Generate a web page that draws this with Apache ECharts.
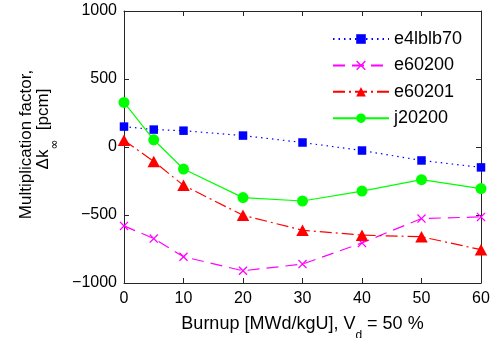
<!DOCTYPE html>
<html><head><meta charset="utf-8">
<script src="https://cdn.jsdelivr.net/npm/echarts@6/dist/echarts.min.js"></script>
<style>html,body{margin:0;padding:0;background:#fff}#c{width:491px;height:338px}</style>
</head><body><div id="c"></div>
<script>
const burnup = [0, 5, 10, 20, 30, 40, 50, 60];
const e4lblb70 = [150, 128, 120, 84, 33, -26, -99, -150];
const e60200 = [-580, -673, -807, -910, -861, -705, -526, -514];
const e60201 = [50, -106, -282, -502, -612, -648, -660, -755];
const j20200 = [328, 53, -162, -372, -397, -324, -240, -306];
const yTicks = [-1000, -500, 0, 500, 1000];
const xTicks = [0, 10, 20, 30, 40, 50, 60];
const seriesNames = ['e4lblb70', 'e60200', 'e60201', 'j20200'];

const FONT = 'Liberation Sans';
const crossPath = 'path://M1,0L5,4L9,0L10,1L6,5L10,9L9,10L5,6L1,10L0,9L4,5L0,1Z';
function pairs(v){ return burnup.map((x,i)=>[x, v[i]]); }
const fmt = v => String(v).replace('-', '\u2212');
const AX = '#262626';

const chart = echarts.init(document.getElementById('c'), null, {renderer:'canvas'});
const axisCommon = {
  axisLine:{show:true, onZero:false, lineStyle:{color:AX, width:1}},
  axisTick:{show:true, inside:true, length:5, lineStyle:{color:AX}},
  splitLine:{show:false}
};
chart.setOption({
  animation:false,
  backgroundColor:'#fff',
  grid:{left:124, top:11, width:357, height:272, containLabel:false, outerBoundsMode:'none'},
  xAxis:[
    Object.assign({type:'value', min:xTicks[0], max:xTicks[xTicks.length-1], interval:10, position:'bottom',
      axisLabel:{color:'#000', fontFamily:FONT, fontSize:16, margin:8, formatter:fmt},
      name:'{a|Burnup [MWd/kgU], V}{s|d}{a| = 50 %}',
      nameLocation:'middle', nameGap:32, nameMoveOverlap:false,
      nameTextStyle:{rich:{
        a:{fontFamily:FONT, fontSize:18, lineHeight:18, color:'#000'},
        s:{fontFamily:FONT, fontSize:12, lineHeight:12, color:'#000', padding:[24,0,0,0]}}}
    }, axisCommon),
    Object.assign({type:'value', min:0, max:60, interval:10, position:'top', axisLabel:{show:false}}, axisCommon)
  ],
  yAxis:[
    Object.assign({type:'value', min:yTicks[0], max:yTicks[yTicks.length-1], interval:500, position:'left',
      axisLabel:{color:'#000', fontFamily:FONT, fontSize:16, margin:7, formatter:fmt}
    }, axisCommon),
    Object.assign({type:'value', min:-1000, max:1000, interval:500, position:'right', axisLabel:{show:false}}, axisCommon)
  ],
  graphic:[
    {type:'text', x:26, y:144.5, rotation:Math.PI/2,
      style:{text:'Multiplication factor,', fontFamily:FONT, fontSize:17, fill:'#000', align:'center', verticalAlign:'middle'}},
    {type:'text', x:43, y:129, rotation:Math.PI/2,
      style:{text:'{a|\u0394k}{s|\u221e}{a|  [pcm]}', align:'center', verticalAlign:'middle',
        rich:{a:{fontFamily:FONT, fontSize:17, lineHeight:17, fill:'#000'},
              s:{fontFamily:'DejaVu Sans', fontSize:12, lineHeight:12, fill:'#000', padding:[24,0,0,0]}}}}
  ],
  legend:{
    orient:'vertical', left:327, top:25, itemWidth:56, itemHeight:12, itemGap:8.4,
    textStyle:{fontFamily:FONT, fontSize:18, color:'#000'},
    data:seriesNames
  },
  series:[
    {name:seriesNames[0], type:'line', data:pairs(e4lblb70), symbol:'rect', symbolSize:8.5,
      lineStyle:{color:'#0000ff', width:1.2, type:[1.5,4]}, itemStyle:{color:'#0000ff'}},
    {name:seriesNames[1], type:'line', data:pairs(e60200), symbol:crossPath, symbolSize:9,
      lineStyle:{color:'#ff00ff', width:1.2, type:[12,7]}, itemStyle:{color:'#ff00ff'}},
    {name:seriesNames[2], type:'line', data:pairs(e60201), symbol:'triangle', symbolSize:[12.5,11.5],
      lineStyle:{color:'#ff0000', width:1.2, type:[12,4,2,4]}, itemStyle:{color:'#ff0000'}},
    {name:seriesNames[3], type:'line', data:pairs(j20200), symbol:'circle', symbolSize:11,
      lineStyle:{color:'#00ff00', width:1.2}, itemStyle:{color:'#00ff00'}}
  ]
});
</script></body></html>
